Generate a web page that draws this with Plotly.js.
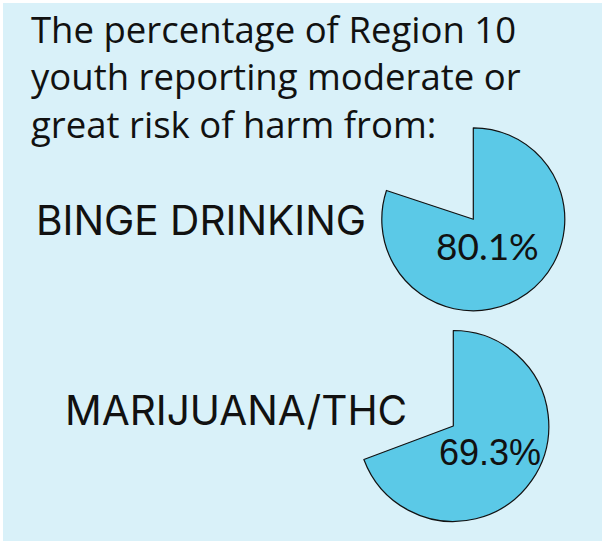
<!DOCTYPE html>
<html>
<head>
<meta charset="utf-8">
<script src="https://cdn.plot.ly/plotly-3.0.1.min.js"></script>
<style>
html,body{margin:0;padding:0;background:#ffffff;}
#chart{width:605px;height:543px;}
</style>
</head>
<body>
<div id="chart"></div>
<script>
// ---- data ----
const titleLines = ["The percentage of Region 10", "youth reporting moderate or", "great risk of harm from:"];
const categories = ["BINGE DRINKING", "MARIJUANA/THC"];
const percents = [80.1, 69.3];

// ---- layout helpers ----
const W = 605, H = 543;
const px = x => x / W;
const py = y => 1 - y / H;

const pieGeom = [
  {cx: 473.3, cy: 219.3, r: 91.5},
  {cx: 453.3, cy: 426.0, r: 95.5}
];
const pieFill = "#5bc9e7";

const traces = percents.map((p, i) => {
  const g = pieGeom[i];
  return {
    type: "pie",
    values: [p, 100 - p],
    labels: [categories[i], "other"],
    sort: false,
    direction: "clockwise",
    rotation: 0,
    textinfo: "none",
    hoverinfo: "skip",
    showlegend: false,
    marker: {
      colors: [pieFill, "rgba(0,0,0,0)"],
      line: {color: ["#111111", "rgba(0,0,0,0)"], width: [1.2, 0]}
    },
    domain: {
      x: [px(g.cx - g.r), px(g.cx + g.r)],
      y: [py(g.cy + g.r), py(g.cy - g.r)]
    }
  };
});

const annotations = [];
annotations.push({
  text: titleLines.join("<br>"), xref: "paper", yref: "paper", x: px(29), y: py(77),
  xanchor: "left", yanchor: "middle", align: "left", showarrow: false,
  font: {family: "'Open Sans', sans-serif", size: 36.5, color: "#111111"}
});
const catPos = [{x: 34, y: 220, size: 40.6, fam: "Inter, sans-serif"},
                {x: 63, y: 409, size: 40.6, fam: "Inter, sans-serif"}];
categories.forEach((c, i) => {
  annotations.push({
    text: c, xref: "paper", yref: "paper", x: px(catPos[i].x), y: py(catPos[i].y + 1),
    xanchor: "left", yanchor: "middle", showarrow: false,
    font: {family: catPos[i].fam, size: catPos[i].size, color: "#111111"}
  });
});
const pctPos = [{x: 487, y: 248, size: 37, fam: "Lato, 'Open Sans', sans-serif"},
                {x: 490, y: 454, size: 36, fam: "'Liberation Sans', Arial, sans-serif"}];
percents.forEach((p, i) => {
  annotations.push({
    text: p.toFixed(1) + "%", xref: "paper", yref: "paper", x: px(pctPos[i].x), y: py(pctPos[i].y - 2),
    xanchor: "center", yanchor: "middle", showarrow: false,
    font: {family: pctPos[i].fam, size: pctPos[i].size, color: "#111111"}
  });
});

const layout = {
  width: W, height: H,
  margin: {l: 0, r: 0, t: 0, b: 0},
  paper_bgcolor: "#ffffff",
  plot_bgcolor: "rgba(0,0,0,0)",
  showlegend: false,
  shapes: [{
    type: "rect", xref: "paper", yref: "paper", layer: "below",
    x0: px(3), x1: px(602), y0: py(541), y1: py(3),
    fillcolor: "#d9f1f9", line: {width: 0}
  }],
  annotations: annotations
};

Plotly.newPlot("chart", traces, layout, {displayModeBar: false, staticPlot: true});
</script>
</body>
</html>
